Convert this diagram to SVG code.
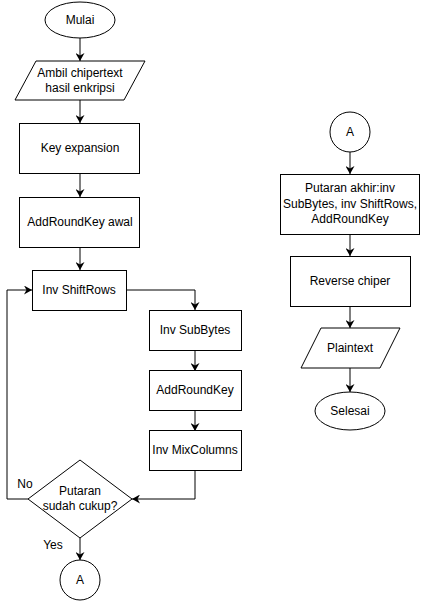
<svg xmlns="http://www.w3.org/2000/svg" width="421" height="602" viewBox="0 0 421 602">
<style>
.s{fill:#fff;stroke:#000;stroke-width:1}
.t{font-family:"Liberation Sans",Arial,sans-serif;font-size:12px;fill:#000;text-anchor:middle}
.c{fill:none;stroke:#000;stroke-width:1}
</style>
<defs>
<marker id="ar" markerUnits="userSpaceOnUse" markerWidth="9" markerHeight="9" refX="8" refY="4.5" orient="auto">
<path d="M0,0 L8,4.5 L0,9 L2.5,4.5 z" fill="#000"/>
</marker>
</defs>
<rect width="421" height="602" fill="#fff"/>
<g id="connectors">
<path class="c" d="M80,38 V61" marker-end="url(#ar)"/>
<path class="c" d="M80,100 V123" marker-end="url(#ar)"/>
<path class="c" d="M80,173 V197" marker-end="url(#ar)"/>
<path class="c" d="M80,247 V270" marker-end="url(#ar)"/>
<path class="c" d="M126,290 H195 V310" marker-end="url(#ar)"/>
<path class="c" d="M195,350 V371" marker-end="url(#ar)"/>
<path class="c" d="M195,410 V431" marker-end="url(#ar)"/>
<path class="c" d="M195,470 V499 H132" marker-end="url(#ar)"/>
<path class="c" d="M28,499 H7 V290 H32" marker-end="url(#ar)"/>
<path class="c" d="M80,538 V560" marker-end="url(#ar)"/>
<path class="c" d="M350,152 V174" marker-end="url(#ar)"/>
<path class="c" d="M350,234 V256" marker-end="url(#ar)"/>
<path class="c" d="M350,306 V328" marker-end="url(#ar)"/>
<path class="c" d="M350,368 V392" marker-end="url(#ar)"/>
<text class="t" x="25" y="488">No</text>
<text class="t" x="53" y="549">Yes</text>
</g>
<g id="mulai">
<ellipse class="s" cx="80" cy="20" rx="35" ry="18"/>
<text class="t" x="80" y="24">Mulai</text>
</g>
<g id="ambil">
<polygon class="s" points="36,61 145,61 124,100 15,100"/>
<text class="t" x="80" y="77">Ambil chipertext</text>
<text class="t" x="80" y="92">hasil enkripsi</text>
</g>
<g id="keyexp">
<rect class="s" x="19.5" y="123.5" width="120" height="50"/>
<text class="t" x="80" y="152">Key expansion</text>
</g>
<g id="addawal">
<rect class="s" x="19.5" y="197.5" width="120" height="50"/>
<text class="t" x="80" y="226">AddRoundKey awal</text>
</g>
<g id="shiftrows">
<rect class="s" x="32.5" y="270.5" width="94" height="40"/>
<text class="t" x="79" y="294">Inv ShiftRows</text>
</g>
<g id="subbytes">
<rect class="s" x="149.5" y="310.5" width="92" height="40"/>
<text class="t" x="195" y="334">Inv SubBytes</text>
</g>
<g id="addroundkey">
<rect class="s" x="149.5" y="370.5" width="92" height="40"/>
<text class="t" x="195" y="394">AddRoundKey</text>
</g>
<g id="mixcolumns">
<rect class="s" x="149.5" y="430.5" width="92" height="40"/>
<text class="t" x="195" y="454">Inv MixColumns</text>
</g>
<g id="decision">
<polygon class="s" points="80,460 132,499 80,538 28,499"/>
<text class="t" x="80" y="495">Putaran</text>
<text class="t" x="80" y="510">sudah cukup?</text>
</g>
<g id="a1">
<circle class="s" cx="80" cy="580" r="20"/>
<text class="t" x="80" y="584">A</text>
</g>
<g id="a2">
<circle class="s" cx="350" cy="132" r="20"/>
<text class="t" x="350" y="136">A</text>
</g>
<g id="akhir">
<rect class="s" x="280.5" y="174.5" width="139" height="60"/>
<text class="t" x="350" y="192">Putaran akhir:inv</text>
<text class="t" x="350" y="208">SubBytes, inv ShiftRows,</text>
<text class="t" x="350" y="223">AddRoundKey</text>
</g>
<g id="reverse">
<rect class="s" x="290.5" y="256.5" width="120" height="50"/>
<text class="t" x="350" y="285">Reverse chiper</text>
</g>
<g id="plaintext">
<polygon class="s" points="321,328 400,328 380,368 301,368"/>
<text class="t" x="350" y="352">Plaintext</text>
</g>
<g id="selesai">
<ellipse class="s" cx="350" cy="411" rx="35" ry="19"/>
<text class="t" x="350" y="415">Selesai</text>
</g>
</svg>
